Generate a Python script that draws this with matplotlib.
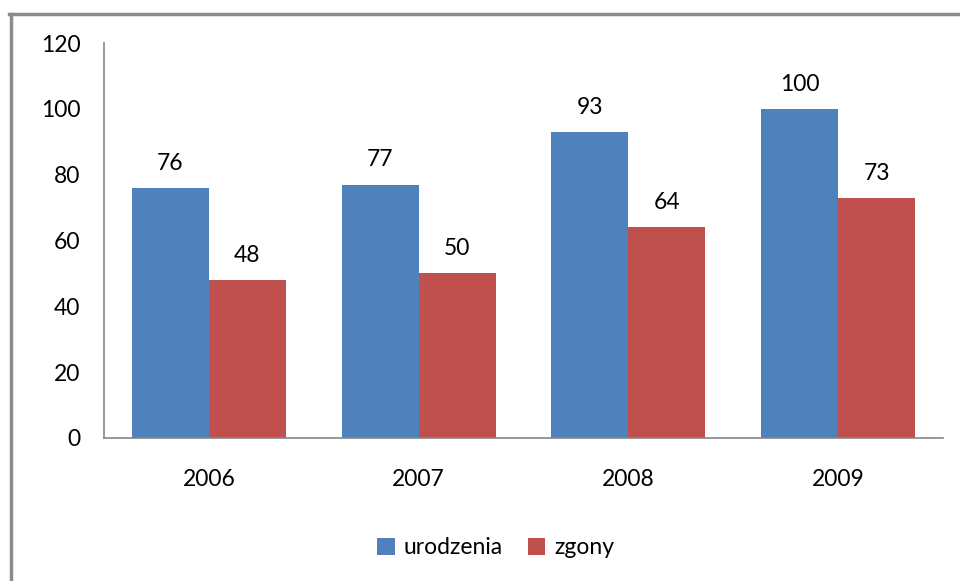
import matplotlib
matplotlib.use("Agg")
import matplotlib.pyplot as plt
import numpy as np
from matplotlib.lines import Line2D

plt.rcParams['font.family'] = ['Lato', 'DejaVu Sans']

years = ["2006", "2007", "2008", "2009"]
urodzenia = [76, 77, 93, 100]
zgony = [48, 50, 64, 73]
series_names = ["urodzenia", "zgony"]
colors = ["#4F81BD", "#C0504D"]
yticks = [0, 20, 40, 60, 80, 100, 120]

FS = 16.5

fig = plt.figure(figsize=(9.6, 5.81), dpi=100)
ax = fig.add_axes([104/960, 1-438/581, (943-104)/960, (438-43)/581])

x = np.arange(len(years))
w = 0.367
b1 = ax.bar(x - w/2, urodzenia, w, color=colors[0], label=series_names[0])
b2 = ax.bar(x + w/2, zgony, w, color=colors[1], label=series_names[1])

for bars, vals in ((b1, urodzenia), (b2, zgony)):
    for r, v in zip(bars, vals):
        ax.text(r.get_x() + r.get_width()/2, v + 4.3, str(v), ha='center', va='bottom',
                fontsize=FS, color='black')

ax.set_xlim(-0.5, 3.5)
ax.set_ylim(0, 120)
ax.set_yticks(yticks)
ax.set_yticklabels([str(t) for t in yticks])
ax.set_xticks(x)
ax.set_xticklabels(years)
ax.tick_params(axis='both', length=0, labelsize=FS)
ax.tick_params(axis='y', pad=17)
ax.tick_params(axis='x', pad=22)
for s in ['top', 'right']:
    ax.spines[s].set_visible(False)
for s in ['left', 'bottom']:
    ax.spines[s].set_color('#868686')
    ax.spines[s].set_linewidth(1.2)

ax.legend(loc='center', bbox_to_anchor=(496/960, 1-548/581), bbox_transform=fig.transFigure,
          ncol=2, frameon=False, fontsize=FS, handlelength=0.75, handleheight=0.75,
          handletextpad=0.4, columnspacing=1.1)

# figure border (left and top)
fig.add_artist(Line2D([10.5/960, 10.5/960], [0, 1-13.5/581], transform=fig.transFigure,
                      color='#8C8C8C', linewidth=2.5))
fig.add_artist(Line2D([9/960, 1], [1-13.5/581, 1-13.5/581], transform=fig.transFigure,
                      color='#8C8C8C', linewidth=2.5))

fig.savefig("out.png", dpi=100)
